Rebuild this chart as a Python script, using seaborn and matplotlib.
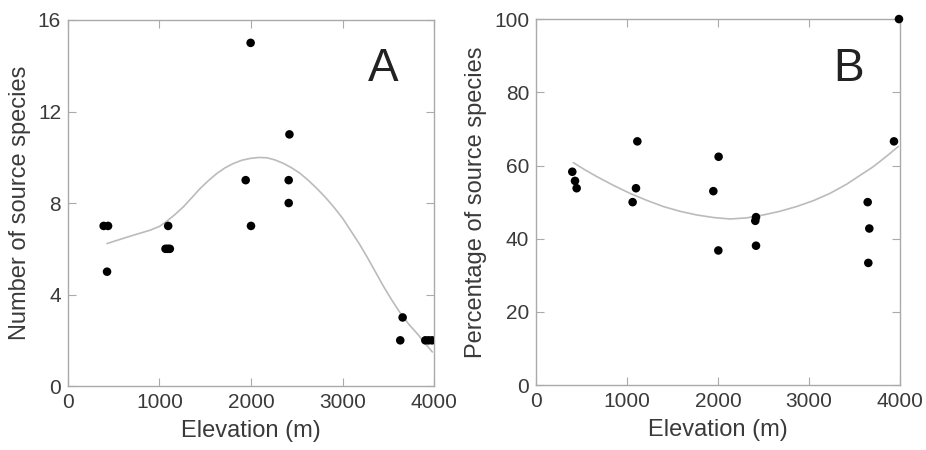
import matplotlib
matplotlib.use("Agg")
import matplotlib.pyplot as plt
import numpy as np
import pandas as pd
import seaborn as sns

# panel A: number of source species
elev_a = [390, 438, 427, 1095, 1066, 1090, 1113, 1996, 1942, 2000, 2420, 2412, 2412,
          3657, 3631, 3905, 3940, 3978]
count_a = [7, 7, 5, 7, 6, 6, 6, 15, 9, 7, 11, 9, 8, 3, 2, 2, 2, 2]
fit_a_x = [427, 600, 712, 895, 1000, 1078, 1170, 1260, 1350, 1443, 1535, 1626, 1717,
           1808, 1900, 1991, 2083, 2174, 2265, 2356, 2448, 2539, 2630, 2721, 2813,
           2904, 3000, 3087, 3180, 3269, 3360, 3452, 3545, 3635, 3725, 3817, 3900, 3982]
fit_a_y = [6.23, 6.45, 6.59, 6.81, 6.98, 7.2, 7.5, 7.83, 8.22, 8.63, 8.98, 9.29, 9.54,
           9.73, 9.87, 9.95, 9.99, 9.98, 9.88, 9.73, 9.53, 9.29, 8.98, 8.63, 8.25,
           7.83, 7.34, 6.81, 6.24, 5.64, 4.99, 4.33, 3.72, 3.17, 2.70, 2.29, 1.88, 1.49]

# panel B: percentage of source species
elev_b = [399, 429, 447, 1062, 1099, 1114, 1949, 2007, 2004, 2418, 2410, 2418,
          3645, 3663, 3652, 3934, 3989]
pct_b = [58.3, 55.8, 53.8, 50, 53.8, 66.6, 53, 62.4, 36.8, 45.9, 44.9, 38.1,
         50, 42.8, 33.4, 66.6, 100]
fit_b_x = [410, 540, 667, 850, 1033, 1216, 1399, 1583, 1766, 1950, 2132, 2315, 2498,
           2681, 2864, 3048, 3231, 3414, 3597, 3690, 3780, 3880, 3982]
fit_b_y = [60.8, 58.8, 57.0, 54.6, 52.4, 50.5, 48.8, 47.5, 46.5, 45.8, 45.4, 45.7, 46.5,
           47.5, 48.8, 50.4, 52.4, 54.9, 57.9, 59.4, 61.1, 63.1, 65.2]

sns.set_style("white")
plt.rcParams['font.family'] = ['Liberation Sans', 'DejaVu Sans']

fig = plt.figure(figsize=(9.26, 4.5), dpi=100)
ax_a = fig.add_axes([0.0734, 0.142, 0.3953, 0.8136])
ax_b = fig.add_axes([0.5788, 0.144, 0.3931, 0.8136])

txt = "#3a3a3a"
frame = "#aaaaaa"


def style(ax, ylim, yticks, ylabel, letter):
    ax.set_xlim(0, 4000)
    ax.set_ylim(*ylim)
    ax.set_xticks([0, 1000, 2000, 3000, 4000])
    ax.set_yticks(yticks)
    ax.tick_params(direction="in", length=6, width=0.8, color=frame,
                   labelsize=15, labelcolor=txt, top=True, right=True, pad=5,
                   bottom=True, left=True)
    for s in ax.spines.values():
        s.set_color(frame)
        s.set_linewidth(1.0)
    ax.set_xlabel("Elevation (m)", fontsize=17, color=txt, labelpad=6)
    ax.set_ylabel(ylabel, fontsize=17, color=txt, labelpad=5)
    ax.text(0.86, 0.865, letter, transform=ax.transAxes, fontsize=33,
            color="#222222", ha="center", va="center")


df_a = pd.DataFrame({"x": elev_a, "y": count_a})
sns.lineplot(x=fit_a_x, y=fit_a_y, ax=ax_a, color="#bbbbbb", lw=1.2)
sns.scatterplot(data=df_a, x="x", y="y", ax=ax_a, color="black", s=38,
                edgecolor="none", zorder=3)
style(ax_a, (0, 16), [0, 4, 8, 12, 16], "Number of source species", "A")

df_b = pd.DataFrame({"x": elev_b, "y": pct_b})
sns.lineplot(x=fit_b_x, y=fit_b_y, ax=ax_b, color="#bbbbbb", lw=1.2)
sns.scatterplot(data=df_b, x="x", y="y", ax=ax_b, color="black", s=38,
                edgecolor="none", zorder=3, clip_on=False)
style(ax_b, (0, 100), [0, 20, 40, 60, 80, 100], "Percentage of source species", "B")

fig.savefig("out.png", dpi=100)
